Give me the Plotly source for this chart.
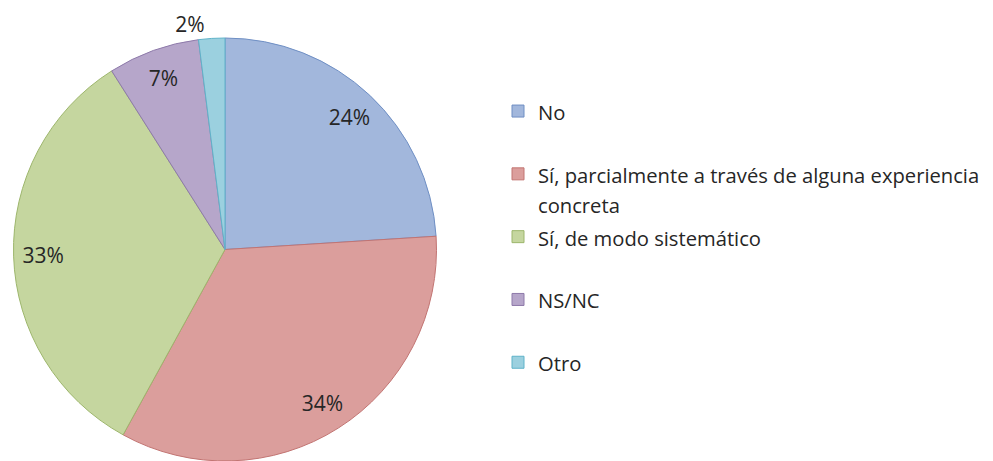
import plotly.graph_objects as go

# survey answers, clockwise from 12 o'clock
categories = [
    "No",
    "Sí, parcialmente a través de alguna experiencia<br>concreta",
    "Sí, de modo sistemático",
    "NS/NC",
    "Otro",
]
percentages = [24, 34, 33, 7, 2]

fill_colors = ["#A2B7DC", "#DB9E9C", "#C5D69F", "#B6A6CA", "#9BD0DF"]
edge_colors = ["#6F8FC4", "#C27472", "#9DB66C", "#8E7AAA", "#5FB3C9"]

# page body has an 8px margin, so the figure is 8px smaller than the window
W, H = 985, 453
TXT = "#262626"
FONT = "Open Sans, Liberation Sans, Arial, sans-serif"

# legend text drawn at ~20px inside a 23px line box so entries sit ~62px apart
legend_labels = []
for c in categories:
    lab = f"<span style='font-size:20.2px'>{c}</span>"
    if "<br>" not in c:
        lab += "<br>\u00a0"
    legend_labels.append(lab)

pie_domain = dict(x=[5.5 / W, 428.5 / W], y=[0, 1])

fig = go.Figure()

# filled slices
fig.add_trace(go.Pie(
    labels=legend_labels,
    values=percentages,
    sort=False,
    direction="clockwise",
    rotation=0,
    marker=dict(colors=fill_colors, line=dict(color=edge_colors, width=1)),
    textinfo="none",
    domain=pie_domain,
    hoverinfo="skip",
))

# same data as a transparent ring, only to carry the % labels near the rim
fig.add_trace(go.Pie(
    labels=legend_labels,
    values=percentages,
    sort=False,
    direction="clockwise",
    rotation=0,
    hole=0.72,
    marker=dict(colors=["rgba(0,0,0,0)"] * len(percentages),
                line=dict(width=0)),
    texttemplate="%{value}%",
    textposition=["inside", "inside", "inside", "inside", "outside"],
    insidetextorientation="horizontal",
    textfont=dict(family=FONT, size=21, color=TXT),
    domain=pie_domain,
    showlegend=False,
    hoverinfo="skip",
))

fig.update_layout(
    width=W,
    height=H,
    # keep the plot area fixed even though the legend runs close to the edge
    margin=dict(l=0, r=0, t=30, b=0, autoexpand=False),
    paper_bgcolor="white",
    plot_bgcolor="white",
    font=dict(family=FONT, color=TXT),
    showlegend=True,
    legend=dict(
        x=490 / W,
        xanchor="left",
        y=0.878,
        yanchor="top",
        valign="top",
        font=dict(family=FONT, size=23, color=TXT),
        bgcolor="rgba(0,0,0,0)",
    ),
)

fig.write_html("out.html")
